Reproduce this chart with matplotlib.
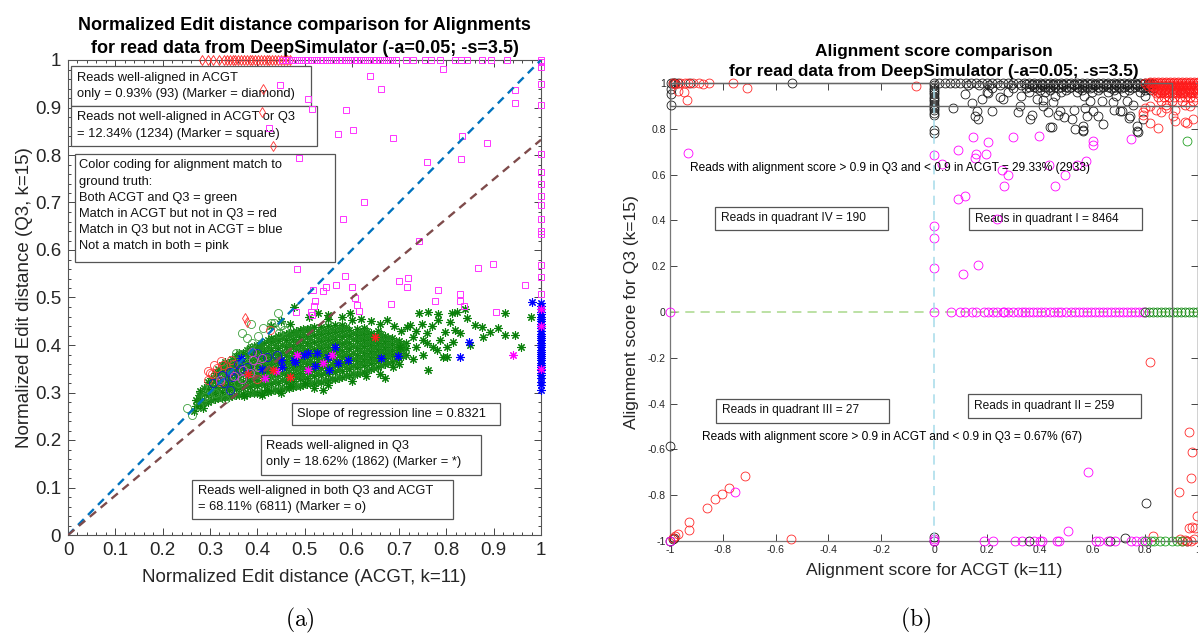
import matplotlib.pyplot as plt
from matplotlib.patches import Rectangle
from matplotlib.ticker import MultipleLocator, FuncFormatter

plt.rcParams['font.family'] = ['Liberation Sans', 'DejaVu Sans']
plt.rcParams['mathtext.fontset'] = 'cm'

# ── panel (a) : normalized edit distance (x = ACGT, y = Q3) ──────────────────
# dense green asterisk cloud, read column by column: (x, [y values])
ga_star_cols = [
    (0.270, [0.272, 0.285]),
    (0.280, [0.274, 0.289, 0.303]),
    (0.295, [0.281, 0.294, 0.308, 0.322]),
    (0.310, [0.286, 0.298, 0.312, 0.327, 0.341]),
    (0.325, [0.289, 0.302, 0.316, 0.331, 0.344, 0.357]),
    (0.340, [0.291, 0.305, 0.318, 0.333, 0.347, 0.362]),
    (0.355, [0.294, 0.307, 0.321, 0.336, 0.350, 0.364, 0.377]),
    (0.370, [0.296, 0.309, 0.323, 0.338, 0.352, 0.367, 0.384]),
    (0.385, [0.298, 0.311, 0.325, 0.339, 0.354, 0.369, 0.382, 0.393]),
    (0.400, [0.300, 0.314, 0.327, 0.341, 0.356, 0.371, 0.385, 0.398]),
    (0.415, [0.301, 0.316, 0.330, 0.344, 0.358, 0.373, 0.388, 0.404]),
    (0.430, [0.303, 0.318, 0.332, 0.346, 0.361, 0.375, 0.390, 0.406, 0.414]),
    (0.445, [0.306, 0.320, 0.334, 0.349, 0.363, 0.378, 0.393, 0.408, 0.419]),
    (0.460, [0.309, 0.322, 0.336, 0.351, 0.366, 0.380, 0.395, 0.410, 0.423]),
    (0.475, [0.311, 0.325, 0.339, 0.353, 0.368, 0.383, 0.398, 0.413, 0.428]),
    (0.490, [0.314, 0.328, 0.342, 0.356, 0.371, 0.386, 0.401, 0.416, 0.431]),
    (0.505, [0.318, 0.331, 0.345, 0.359, 0.374, 0.389, 0.404, 0.419, 0.434]),
    (0.520, [0.321, 0.334, 0.348, 0.362, 0.377, 0.392, 0.406, 0.421, 0.437]),
    (0.535, [0.323, 0.337, 0.351, 0.365, 0.379, 0.394, 0.409, 0.424, 0.438]),
    (0.550, [0.326, 0.340, 0.354, 0.368, 0.382, 0.396, 0.411, 0.426, 0.441]),
    (0.565, [0.329, 0.343, 0.357, 0.371, 0.385, 0.399, 0.413, 0.428, 0.442]),
    (0.580, [0.332, 0.346, 0.360, 0.374, 0.388, 0.402, 0.416, 0.430, 0.443]),
    (0.595, [0.336, 0.349, 0.363, 0.377, 0.391, 0.405, 0.419, 0.432]),
    (0.610, [0.340, 0.353, 0.366, 0.380, 0.394, 0.408, 0.421, 0.434]),
    (0.625, [0.344, 0.357, 0.370, 0.383, 0.397, 0.410, 0.423, 0.436]),
    (0.640, [0.349, 0.362, 0.374, 0.387, 0.400, 0.413, 0.426]),
    (0.655, [0.354, 0.366, 0.379, 0.391, 0.404, 0.417, 0.429]),
    (0.670, [0.360, 0.372, 0.384, 0.396, 0.408, 0.420]),
    (0.685, [0.366, 0.378, 0.390, 0.402, 0.414]),
    (0.700, [0.372, 0.384, 0.396, 0.408]),
    (0.715, [0.380, 0.393, 0.405]),
]
# second, interleaved pass over the same cloud
ga_star_cols2 = [
    (0.2775, [0.279, 0.295]),
    (0.2875, [0.281, 0.296, 0.310]),
    (0.3025, [0.284, 0.300, 0.315, 0.330]),
    (0.3175, [0.288, 0.305, 0.320, 0.335, 0.349]),
    (0.3325, [0.290, 0.309, 0.324, 0.338, 0.352, 0.364]),
    (0.3475, [0.292, 0.311, 0.326, 0.341, 0.356, 0.370]),
    (0.3625, [0.295, 0.314, 0.329, 0.344, 0.358, 0.372, 0.383]),
    (0.3775, [0.297, 0.316, 0.331, 0.346, 0.361, 0.376, 0.389]),
    (0.3925, [0.299, 0.318, 0.333, 0.347, 0.362, 0.377, 0.390, 0.397]),
    (0.4075, [0.300, 0.320, 0.335, 0.350, 0.364, 0.379, 0.393, 0.403]),
    (0.4225, [0.302, 0.323, 0.338, 0.352, 0.367, 0.381, 0.396, 0.410]),
    (0.4375, [0.305, 0.325, 0.340, 0.354, 0.369, 0.384, 0.399, 0.413]),
    (0.4525, [0.307, 0.327, 0.342, 0.357, 0.371, 0.386, 0.401, 0.415, 0.422]),
    (0.4675, [0.310, 0.329, 0.344, 0.359, 0.374, 0.388, 0.403, 0.418, 0.426]),
    (0.4825, [0.313, 0.332, 0.347, 0.362, 0.376, 0.391, 0.406, 0.421, 0.430]),
    (0.4975, [0.316, 0.335, 0.350, 0.365, 0.379, 0.394, 0.409, 0.424, 0.433]),
    (0.5125, [0.320, 0.338, 0.352, 0.367, 0.382, 0.397, 0.412, 0.427, 0.436]),
    (0.5275, [0.322, 0.341, 0.355, 0.370, 0.385, 0.400, 0.414, 0.430]),
    (0.5425, [0.325, 0.344, 0.358, 0.372, 0.387, 0.402, 0.417, 0.432]),
    (0.5575, [0.328, 0.347, 0.361, 0.375, 0.390, 0.404, 0.419, 0.434]),
    (0.5725, [0.331, 0.350, 0.364, 0.378, 0.392, 0.406, 0.421, 0.436]),
    (0.5875, [0.334, 0.353, 0.367, 0.381, 0.395, 0.409, 0.423, 0.437]),
    (0.6025, [0.338, 0.356, 0.370, 0.384, 0.398, 0.412, 0.426]),
    (0.6175, [0.342, 0.360, 0.373, 0.387, 0.401, 0.414, 0.428]),
    (0.6325, [0.347, 0.364, 0.377, 0.390, 0.404, 0.417, 0.430]),
    (0.6475, [0.352, 0.368, 0.381, 0.394, 0.407, 0.420]),
    (0.6625, [0.357, 0.373, 0.385, 0.398, 0.410, 0.423]),
    (0.6775, [0.363, 0.378, 0.390, 0.402, 0.414]),
    (0.6925, [0.369, 0.384, 0.396, 0.408]),
    (0.7075, [0.376, 0.390, 0.402]),
]
# sparse green asterisks around the cloud
ga_star_extra = [
    (0.477, 0.481), (0.529, 0.467), (0.549, 0.463), (0.596, 0.467), (0.742, 0.468),
    (0.761, 0.469), (0.782, 0.465), (0.811, 0.468), (0.822, 0.469), (0.839, 0.476),
    (0.843, 0.457), (0.861, 0.442), (0.875, 0.438), (0.892, 0.427), (0.924, 0.467),
    (0.979, 0.459), (0.924, 0.421), (0.945, 0.421), (0.958, 0.396), (0.761, 0.347),
    (0.801, 0.375), (0.814, 0.406), (0.782, 0.453), (0.797, 0.427), (0.808, 0.448),
    (0.818, 0.432), (0.829, 0.425), (0.786, 0.411), (0.801, 0.396), (0.772, 0.396),
    (0.751, 0.411), (0.729, 0.417), (0.717, 0.438), (0.674, 0.453), (0.702, 0.396),
    (0.687, 0.354), (0.877, 0.417), (0.723, 0.442), (0.780, 0.389), (0.793, 0.375),
    (0.748, 0.445), (0.735, 0.430), (0.760, 0.425), (0.705, 0.430), (0.690, 0.440),
    (0.660, 0.445), (0.640, 0.450), (0.620, 0.455), (0.600, 0.452), (0.580, 0.458),
    (0.550, 0.455), (0.510, 0.460), (0.450, 0.450), (0.430, 0.440), (0.470, 0.445),
    (0.501, 0.320), (0.469, 0.313), (0.372, 0.292), (0.420, 0.306), (0.410, 0.295),
    (0.450, 0.300), (0.520, 0.310), (0.550, 0.315), (0.600, 0.325), (0.630, 0.335),
    (0.660, 0.340), (0.700, 0.360), (0.730, 0.370), (0.750, 0.380), (0.850, 0.400),
    (0.910, 0.435), (0.735, 0.395), (0.760, 0.405), (0.770, 0.440), (0.670, 0.330),
    (0.540, 0.305), (0.266, 0.262), (0.285, 0.268),
]
ga_circle = [
    (0.252, 0.267), (0.262, 0.252), (0.276, 0.272), (0.290, 0.290), (0.300, 0.310),
    (0.332, 0.286), (0.340, 0.306), (0.356, 0.383), (0.367, 0.425), (0.378, 0.415),
    (0.384, 0.393), (0.386, 0.444), (0.389, 0.404), (0.401, 0.418), (0.412, 0.435),
    (0.430, 0.446), (0.436, 0.446), (0.444, 0.468), (0.446, 0.425), (0.448, 0.440),
    (0.452, 0.443), (0.456, 0.432), (0.325, 0.330), (0.310, 0.300), (0.350, 0.360),
    (0.370, 0.370), (0.400, 0.340), (0.420, 0.330), (0.360, 0.320), (0.440, 0.340),
    (0.330, 0.350),
]
ra_circle = [
    (0.296, 0.345), (0.308, 0.357), (0.324, 0.366), (0.344, 0.369), (0.296, 0.327),
    (0.316, 0.352), (0.304, 0.338), (0.340, 0.345), (0.348, 0.359), (0.300, 0.341),
    (0.321, 0.322), (0.400, 0.328), (0.328, 0.358), (0.427, 0.432),
]
ba_circle = [
    (0.400, 0.383), (0.421, 0.375), (0.442, 0.379), (0.342, 0.343), (0.347, 0.333),
    (0.364, 0.349), (0.307, 0.320), (0.342, 0.305), (0.378, 0.354), (0.326, 0.337),
    (0.330, 0.320), (0.360, 0.360),
]
ma_circle = [
    (0.391, 0.368), (0.402, 0.354), (0.370, 0.347), (0.385, 0.341), (0.321, 0.326),
    (0.368, 0.328), (0.410, 0.373), (0.350, 0.335), (0.390, 0.385),
]
ba_star = [
    (0.450, 0.368), (0.452, 0.354), (0.477, 0.369), (0.499, 0.378), (0.527, 0.384),
    (0.565, 0.395), (0.551, 0.347), (0.592, 0.368), (0.698, 0.377), (0.662, 0.373),
    (0.847, 0.407), (0.829, 0.374), (0.982, 0.491), (0.507, 0.383), (0.550, 0.375),
    (0.571, 0.362), (0.522, 0.356), (0.480, 0.364), (0.366, 0.373), (0.410, 0.350),
]
ba_star_col_y = [
    0.305, 0.315, 0.322, 0.330, 0.336, 0.342, 0.348, 0.353, 0.358, 0.363, 0.368,
    0.372, 0.377, 0.382, 0.386, 0.390, 0.395, 0.400, 0.405, 0.410, 0.414, 0.419,
    0.424, 0.430, 0.435, 0.440, 0.445, 0.450, 0.455, 0.460, 0.465, 0.470, 0.476,
    0.482, 0.488,
]
ma_star = [
    (0.484, 0.379), (0.539, 0.362), (0.558, 0.379), (0.507, 0.347), (0.416, 0.330),
    (0.440, 0.345), (0.940, 0.380), (1.000, 0.350), (1.000, 0.440), (1.000, 0.476),
]
ra_star = [(0.649, 0.417), (0.469, 0.333), (0.433, 0.347), (0.380, 0.340)]
ra_diamond_top_x = [
    0.283, 0.295, 0.307, 0.319, 0.330, 0.336, 0.342, 0.348, 0.354, 0.360, 0.366,
    0.372, 0.378, 0.384, 0.390, 0.396, 0.402, 0.408, 0.414, 0.420, 0.426, 0.432,
    0.438, 0.444, 0.450, 0.456, 0.462, 0.469,
]
ra_diamond = [(0.412, 0.938), (0.410, 0.890), (0.433, 0.820), (0.374, 0.457), (0.378, 0.448)]
ma_square_top_x = [
    0.452, 0.460, 0.468, 0.476, 0.484, 0.492, 0.500, 0.508, 0.516, 0.524, 0.532,
    0.540, 0.548, 0.556, 0.564, 0.572, 0.580, 0.588, 0.596, 0.604, 0.612, 0.620,
    0.628, 0.636, 0.644, 0.652, 0.660, 0.668, 0.676, 0.684, 0.694, 0.714, 0.730,
    0.755, 0.767, 0.787, 0.819, 0.831, 0.843, 0.875, 0.895, 0.928, 1.000,
]
ma_square = [
    (0.448, 0.947), (0.507, 0.917), (0.515, 0.896), (0.638, 0.967), (0.662, 0.938),
    (0.792, 0.981), (0.946, 0.937), (0.945, 0.909), (0.588, 0.894), (0.570, 0.845),
    (0.603, 0.852), (0.688, 0.835), (0.833, 0.839), (0.885, 0.825), (0.488, 0.794),
    (0.758, 0.785), (0.830, 0.791), (0.626, 0.701), (0.581, 0.665), (0.742, 0.619),
    (0.485, 0.561), (0.866, 0.562), (0.898, 0.570), (0.585, 0.546), (0.700, 0.535),
    (0.719, 0.542), (0.717, 0.523), (0.783, 0.515), (0.829, 0.507), (0.966, 0.527),
    (0.567, 0.527), (0.600, 0.523), (0.539, 0.514), (0.518, 0.515), (0.545, 0.522),
    (0.523, 0.493), (0.520, 0.483), (0.481, 0.470), (0.514, 0.470), (0.516, 0.463),
    (0.607, 0.498), (0.612, 0.484), (0.615, 0.472), (0.683, 0.486), (0.775, 0.493),
    (0.828, 0.493), (0.837, 0.483), (0.905, 0.469), (0.425, 0.857),
]
ma_square_col_y = [
    0.996, 0.985, 0.949, 0.906, 0.802, 0.764, 0.740, 0.714, 0.695, 0.665, 0.640,
    0.633, 0.568, 0.543, 0.508,
]
slope_a = 0.8321

# ── panel (b) : alignment score (x = ACGT, y = Q3) ───────────────────────────
# black circles, dense rows along the top: (y, [x values])
kb_rows = [
    (1.000, [0.02, 0.04, 0.06, 0.08, 0.10, 0.12, 0.14, 0.16, 0.18, 0.20, 0.22, 0.24,
             0.26, 0.28, 0.30, 0.32, 0.34, 0.36, 0.38, 0.40, 0.42, 0.44, 0.46, 0.48,
             0.50, 0.52, 0.54, 0.56, 0.58, 0.60, 0.62, 0.64, 0.66, 0.68, 0.70, 0.72,
             0.74, 0.76, 0.78, 0.80, 0.82]),
    (0.995, [0.35, 0.37, 0.39, 0.41, 0.43, 0.45, 0.47, 0.49, 0.51, 0.53, 0.55, 0.57,
             0.59, 0.61, 0.63, 0.65, 0.67, 0.69, 0.71, 0.73, 0.75, 0.77, 0.79, 0.81,
             0.83]),
    (0.990, [0.13, 0.17, 0.21, 0.25, 0.29, 0.33, 0.37, 0.41, 0.45, 0.49, 0.53, 0.57,
             0.61, 0.65, 0.69, 0.73, 0.77, 0.81]),
    (0.984, [0.36, 0.38, 0.40, 0.42, 0.44, 0.46, 0.48, 0.50, 0.52, 0.54, 0.56, 0.58,
             0.60, 0.62, 0.64, 0.66, 0.68, 0.70, 0.72, 0.74, 0.76, 0.78, 0.80, 0.82]),
    (0.978, [0.22, 0.30, 0.35, 0.39, 0.43, 0.47, 0.51, 0.55, 0.59, 0.63, 0.67, 0.71,
             0.75, 0.79, 0.83]),
    (0.970, [0.40, 0.44, 0.50, 0.56, 0.62, 0.68, 0.74, 0.80, 0.82]),
    (0.962, [0.28, 0.36, 0.42, 0.48, 0.54, 0.60, 0.66, 0.72, 0.78]),
    (0.945, [0.33, 0.46, 0.57, 0.69, 0.80]),
]
kb_col_y = [1.0, 0.99, 0.98, 0.97, 0.96, 0.95, 0.94, 0.93, 0.92, 0.91, 0.90, 0.89,
            0.88, 0.87, 0.86, 0.795, 0.78]
kb_scatter = [
    (0.117, 0.952), (0.072, 0.891), (0.163, 0.878), (0.167, 0.843), (0.220, 0.878),
    (0.326, 0.900), (0.318, 0.873), (0.364, 0.843), (0.439, 0.808), (0.432, 0.873),
    (0.477, 0.878), (0.523, 0.843), (0.534, 0.799), (0.564, 0.812), (0.564, 0.790),
    (0.580, 0.856), (0.640, 0.821), (0.636, 0.921), (0.705, 0.878), (0.742, 0.856),
    (0.769, 0.790), (0.250, 0.939), (0.200, 0.961), (0.390, 0.930), (0.451, 0.917),
    (0.591, 0.921), (0.678, 0.917), (0.731, 0.921), (0.145, 0.913), (0.157, 0.855),
    (0.181, 0.930), (0.203, 0.956), (0.261, 0.930), (0.370, 0.862), (0.413, 0.898),
    (0.446, 0.807), (0.471, 0.862), (0.493, 0.852), (0.565, 0.793), (0.623, 0.857),
    (0.714, 0.876), (0.739, 0.847), (0.768, 0.811), (0.771, 0.785), (0.793, 0.843),
    (0.754, 0.905), (0.572, 0.891), (0.529, 0.881), (0.601, 0.876), (0.681, 0.884),
    (0.413, 0.927), (-0.996, 1.0), (-0.990, 0.998), (-0.985, 1.0), (-0.996, 0.974),
    (-0.996, 0.952), (-0.996, 0.904), (-0.924, 1.0), (-0.538, 1.0), (-0.980, 1.0),
    (-0.970, 1.0), (-1.0, -1.0), (-0.990, -0.990), (-0.985, -0.985), (-1.0, -0.584),
    (0.0, -0.981), (0.0, -1.0), (0.360, -1.0), (0.665, -1.0), (0.722, -0.988),
    (0.803, -0.836), (0.960, -1.0),
]
# red circles, dense block top right: (y, [x values])
rb_rows = [
    (1.005, [0.820, 0.835, 0.850, 0.865, 0.880, 0.895, 0.910, 0.925, 0.940, 0.955,
             0.970, 0.985, 1.000]),
    (1.000, [0.800, 0.815, 0.830, 0.845, 0.860, 0.875, 0.890, 0.905, 0.920, 0.935,
             0.950, 0.965, 0.980, 0.995]),
    (0.993, [0.822, 0.838, 0.852, 0.868, 0.882, 0.898, 0.912, 0.928, 0.942, 0.958,
             0.972, 0.988]),
    (0.985, [0.810, 0.825, 0.840, 0.855, 0.870, 0.885, 0.900, 0.915, 0.930, 0.945,
             0.960, 0.975, 0.990]),
    (0.978, [0.835, 0.850, 0.865, 0.880, 0.895, 0.910, 0.925, 0.940, 0.955, 0.970,
             0.985, 1.000]),
    (0.970, [0.830, 0.845, 0.860, 0.875, 0.890, 0.905, 0.920, 0.935, 0.950, 0.965,
             0.980, 0.995]),
    (0.962, [0.848, 0.862, 0.878, 0.892, 0.908, 0.922, 0.938, 0.952, 0.968, 0.982,
             0.998]),
    (0.955, [0.840, 0.855, 0.870, 0.885, 0.900, 0.915, 0.930, 0.945, 0.960, 0.975,
             0.990]),
    (0.940, [0.850, 0.870, 0.890, 0.910, 0.930, 0.950, 0.970, 0.990]),
    (0.920, [0.860, 0.900, 0.940, 0.980]),
    (0.905, [0.880, 0.950]),
]
rb_scatter = [
    (-0.962, 1.0), (-0.943, 1.0), (-0.913, 1.0), (-0.875, 0.996), (-0.852, 1.0),
    (-0.761, 1.0), (-0.708, 0.978), (-0.970, 0.965), (-0.947, 0.960), (-0.936, 0.926),
    (-0.068, 0.987), (-0.980, 0.995), (-0.990, 1.0), (-0.930, 1.0), (-0.890, 1.0),
    (0.818, 0.825), (0.848, 0.803), (0.792, 0.873), (0.800, 0.890), (0.913, 0.834),
    (0.951, 0.830), (0.981, 0.843), (0.970, 0.900), (0.790, 0.862), (0.906, 0.855),
    (0.957, 0.825), (0.913, 0.884), (0.820, 0.900), (0.840, 0.880), (0.860, 0.875),
    (0.880, 0.890), (0.818, -0.218), (0.966, -0.524), (0.977, -0.611), (0.973, -0.725),
    (0.928, -0.786), (0.996, -0.890), (0.977, -0.940), (0.965, -0.945), (0.990, -0.945),
    (0.830, -0.980), (0.940, -1.0), (0.950, -0.995), (0.960, -1.0), (0.930, -0.990),
    (0.975, -1.0), (0.985, -0.990), (-0.970, -0.968), (-0.927, -0.919), (-0.927, -0.952),
    (-0.859, -0.854), (-0.830, -0.817), (-0.803, -0.793), (-0.776, -0.770),
    (-0.717, -0.718), (-0.543, -0.990), (-0.990, -0.985), (-0.980, -0.980),
]
mb_scatter = [
    (-0.932, 0.695), (0.0, 0.687), (0.090, 0.706), (0.149, 0.764), (0.206, 0.741),
    (0.158, 0.692), (0.155, 0.673), (0.196, 0.692), (0.301, 0.764), (0.399, 0.767),
    (0.601, 0.745), (0.604, 0.731), (0.745, 0.754), (0.032, 0.648), (0.257, 0.619),
    (0.280, 0.597), (0.265, 0.552), (0.435, 0.644), (0.496, 0.600), (0.457, 0.552),
    (0.541, 0.644), (0.575, 0.658), (0.091, 0.494), (0.119, 0.508), (0.0, 0.375),
    (0.0, 0.322), (0.0, 0.193), (0.109, 0.167), (0.167, 0.204), (0.239, 0.408),
    (0.509, -0.955), (-0.753, -0.786), (0.583, -0.698), (-1.0, 0.0), (-1.0, -1.0),
    (0.0, -0.990), (0.0, -1.0),
]
mb_zero_x = [
    0.0, 0.065, 0.097, 0.116, 0.145, 0.160, 0.190, 0.205, 0.225, 0.240, 0.260, 0.265,
    0.280, 0.300, 0.320, 0.335, 0.345, 0.360, 0.375, 0.390, 0.405, 0.420, 0.440,
    0.455, 0.470, 0.480, 0.500, 0.520, 0.535, 0.550, 0.565, 0.580, 0.595, 0.610,
    0.625, 0.640, 0.655, 0.670, 0.685, 0.700, 0.715, 0.730, 0.745, 0.760, 0.775,
    0.790, 0.800,
]
mb_bottom_x = [0.190, 0.224, 0.305, 0.332, 0.380, 0.400, 0.410, 0.465, 0.475, 0.615,
               0.624, 0.658, 0.685, 0.746, 0.767, 0.787, 0.807]
gb_zero_x = [0.800, 0.815, 0.830, 0.845, 0.860, 0.875, 0.890, 0.905, 0.920, 0.935,
             0.950, 0.965, 0.980, 0.995]
gb_bottom_x = [0.800, 0.821, 0.835, 0.855, 0.875, 0.900, 0.920, 0.940]
gb_scatter = [(0.959, 0.748)]
thr_b = 0.9


def unzip(pairs):
    return [p[0] for p in pairs], [p[1] for p in pairs]


def from_cols(cols):
    xs, ys = [], []
    for x, yl in cols:
        xs += [x] * len(yl)
        ys += list(yl)
    return xs, ys


def from_rows(rows):
    xs, ys = [], []
    for y, xl in rows:
        xs += list(xl)
        ys += [y] * len(xl)
    return xs, ys


def fmt_tick(v, pos):
    return "0" if abs(v) < 1e-9 else f"{v:g}"


def box(ax, x0, y0, x1, y1, lines, tx, ty0, dy, fs, zorder=2):
    ax.add_patch(Rectangle((x0, y0), x1 - x0, y1 - y0, facecolor="white",
                           edgecolor="#555555", lw=0.9, zorder=zorder))
    for i, s in enumerate(lines):
        ax.text(tx, ty0 - i * dy, s, fontsize=fs, va="center", ha="left",
                color="#111111", zorder=zorder + 0.1)


ASTER = (8, 2, 0)

fig = plt.figure(figsize=(11.98, 6.36), dpi=100)

# ══════════════════════════════════════════════════════════════════════════
# (a)
# ══════════════════════════════════════════════════════════════════════════
ax = fig.add_axes([68 / 1198, 101 / 636, 473 / 1198, 475 / 636])
ax.set_xlim(0, 1)
ax.set_ylim(0, 1)

mk = dict(linestyle="none", clip_on=False, markerfacecolor="none")
st = dict(marker=ASTER, ms=6, mew=0.8)
x, y = from_cols(ga_star_cols)
ax.plot(x, y, color="#0a800a", zorder=3, **st, **mk)
x, y = from_cols(ga_star_cols2)
ax.plot(x, y, color="#1a8a1a", zorder=3, **st, **mk)
x, y = unzip(ga_star_extra)
ax.plot(x, y, color="#0a800a", zorder=3, **st, **mk)
x, y = unzip(ga_circle)
ax.plot(x, y, marker="o", ms=5.8, mew=0.6, color="#3a9e3a", zorder=4, **mk)
x, y = unzip(ra_circle)
ax.plot(x, y, marker="o", ms=5.8, mew=0.6, color="#ff3a3a", zorder=4, **mk)
x, y = unzip(ba_circle)
ax.plot(x, y, marker="o", ms=5.8, mew=0.6, color="#1010e0", zorder=4, **mk)
x, y = unzip(ma_circle)
ax.plot(x, y, marker="o", ms=5.8, mew=0.6, color="#e040e0", zorder=4, **mk)
x, y = unzip(ba_star)
ax.plot(x, y, color="#0000ff", zorder=5, **st, **mk)
ax.plot([1.0] * len(ba_star_col_y), ba_star_col_y, color="#0000ff", zorder=5, **st, **mk)
x, y = unzip(ma_star)
ax.plot(x, y, color="#ff00ff", zorder=5, **st, **mk)
x, y = unzip(ra_star)
ax.plot(x, y, color="#ff2020", zorder=5, **st, **mk)
ax.plot(ra_diamond_top_x, [1.0] * len(ra_diamond_top_x), marker="d", ms=5.5, mew=0.6,
        color="#ff2020", zorder=5, **mk)
x, y = unzip(ra_diamond)
ax.plot(x, y, marker="d", ms=5.5, mew=0.6, color="#ff3030", zorder=5, **mk)
ax.plot(ma_square_top_x, [1.0] * len(ma_square_top_x), marker="s", ms=4.6, mew=0.7,
        color="#ff33ff", zorder=5, **mk)
x, y = unzip(ma_square)
ax.plot(x, y, marker="s", ms=4.6, mew=0.7, color="#ff33ff", zorder=5, **mk)
ax.plot([1.0] * len(ma_square_col_y), ma_square_col_y, marker="s", ms=4.6, mew=0.7,
        color="#ff33ff", zorder=5, **mk)

# reference line y = x and regression line
ax.plot([0, 1], [0, 1], color="#0072BD", lw=1.7, ls=(0, (3.5, 2.5)), zorder=6)
ax.plot([0, 1], [0, slope_a], color="#7e4b4b", lw=1.7, ls=(0, (3.5, 2.5)), zorder=6)

fs_a = 9.3
box(ax, 0.006, 0.903, 0.513, 0.988,
    ["Reads well-aligned in ACGT", "only = 0.93% (93) (Marker = diamond)"],
    0.018, 0.963, 0.034, fs_a)
box(ax, 0.006, 0.819, 0.527, 0.903,
    ["Reads not well-aligned in ACGT or Q3", "= 12.34% (1234) (Marker = square)"],
    0.018, 0.879, 0.034, fs_a)
box(ax, 0.014, 0.574, 0.565, 0.802,
    ["Color coding for alignment match to", "ground truth:",
     "Both ACGT and Q3 = green", "Match in ACGT but not in Q3 = red",
     "Match in Q3 but not in ACGT = blue", "Not a match in both = pink"],
    0.024, 0.778, 0.0338, fs_a)
box(ax, 0.474, 0.231, 0.914, 0.277,
    [f"Slope of regression line = {slope_a}"], 0.485, 0.254, 0.034, fs_a)
box(ax, 0.407, 0.127, 0.874, 0.211,
    ["Reads well-aligned in Q3", "only = 18.62% (1862) (Marker = *)"],
    0.418, 0.187, 0.034, fs_a)
box(ax, 0.262, 0.033, 0.813, 0.116,
    ["Reads well-aligned in both Q3 and ACGT", "= 68.11% (6811) (Marker = o)"],
    0.274, 0.092, 0.034, fs_a)

ax.xaxis.set_major_locator(MultipleLocator(0.1))
ax.yaxis.set_major_locator(MultipleLocator(0.1))
ax.xaxis.set_minor_locator(MultipleLocator(0.02))
ax.yaxis.set_minor_locator(MultipleLocator(0.02))
ax.xaxis.set_major_formatter(FuncFormatter(fmt_tick))
ax.yaxis.set_major_formatter(FuncFormatter(fmt_tick))
ax.tick_params(which="both", direction="in", top=True, right=True, colors="#262626",
               labelsize=13.5, width=0.6)
ax.tick_params(which="major", length=5, pad=5)
ax.tick_params(which="minor", length=2.5)
for sp in ax.spines.values():
    sp.set_color("#555555")
    sp.set_linewidth(0.8)
ax.set_xlabel("Normalized Edit distance (ACGT, k=11)", fontsize=13.5, color="#262626")
ax.set_ylabel("Normalized Edit distance (Q3, k=15)", fontsize=13.5, color="#262626")
ax.xaxis.set_label_coords(0.5, -0.072)
ax.yaxis.set_label_coords(-0.075, 0.5)
ax.set_title("Normalized Edit distance comparison for Alignments\n"
             "for read data from DeepSimulator (-a=0.05; -s=3.5)",
             fontsize=13, fontweight="bold", pad=5, linespacing=1.45)

# ══════════════════════════════════════════════════════════════════════════
# (b)
# ══════════════════════════════════════════════════════════════════════════
bx = fig.add_axes([670 / 1198, 95 / 636, 528 / 1198, 458 / 636])
bx.set_xlim(-1, 1)
bx.set_ylim(-1, 1)

mb = dict(linestyle="none", clip_on=False, markerfacecolor="none", marker="o",
          ms=6.4, mew=0.6)
x, y = from_rows(kb_rows)
bx.plot(x, y, color="#1a1a1a", zorder=3, **mb)
bx.plot([0.0] * len(kb_col_y), kb_col_y, color="#1a1a1a", zorder=3, **mb)
x, y = unzip(kb_scatter)
bx.plot(x, y, color="#1a1a1a", zorder=3, **mb)
x, y = from_rows(rb_rows)
bx.plot(x, y, color="#ff1a1a", zorder=3, **mb)
x, y = unzip(rb_scatter)
bx.plot(x, y, color="#ff2a2a", zorder=3, **mb)
x, y = unzip(mb_scatter)
bx.plot(x, y, color="#ff00ff", zorder=3, **mb)
bx.plot(mb_zero_x, [0.0] * len(mb_zero_x), color="#ff00ff", zorder=3, **mb)
bx.plot(mb_bottom_x, [-1.0] * len(mb_bottom_x), color="#ff00ff", zorder=3, **mb)
bx.plot(gb_zero_x, [0.0] * len(gb_zero_x), color="#118811", zorder=3, **mb)
bx.plot(gb_bottom_x, [-1.0] * len(gb_bottom_x), color="#22a022", zorder=3, **mb)
x, y = unzip(gb_scatter)
bx.plot(x, y, color="#22a022", zorder=3, **mb)

# zero lines and threshold regions
bx.axvline(0, color="#a6dbea", lw=1.1, ls=(0, (6, 4)), zorder=4)
bx.axhline(0, color="#a9d98c", lw=1.1, ls=(0, (6, 4)), zorder=2.5)
bx.add_patch(Rectangle((-1, thr_b), 1 + thr_b, 1 - thr_b, fill=False,
                       edgecolor="#666666", lw=1.0, zorder=5, clip_on=False))
bx.add_patch(Rectangle((thr_b, -1), 1 - thr_b, 1 + thr_b, fill=False,
                       edgecolor="#666666", lw=1.0, zorder=5, clip_on=False))

fs_b = 8.6
bx.text(-0.925, 0.629,
        "Reads with alignment score > 0.9 in Q3 and < 0.9 in ACGT = 29.33% (2933)",
        fontsize=fs_b, va="center", ha="left", zorder=6)
bx.text(-0.880, -0.548,
        "Reads with alignment score > 0.9 in ACGT and < 0.9 in Q3 = 0.67% (67)",
        fontsize=fs_b, va="center", ha="left", zorder=6)
box(bx, -0.829, 0.360, -0.174, 0.459, ["Reads in quadrant IV = 190"],
    -0.807, 0.410, 0.0, fs_b, zorder=1.5)
box(bx, 0.133, 0.356, 0.787, 0.453, ["Reads in quadrant I = 8464"],
    0.155, 0.405, 0.0, fs_b, zorder=1.5)
box(bx, -0.826, -0.483, -0.172, -0.378, ["Reads in quadrant III = 27"],
    -0.804, -0.430, 0.0, fs_b, zorder=1.5)
box(bx, 0.128, -0.461, 0.783, -0.360, ["Reads in quadrant II = 259"],
    0.150, -0.410, 0.0, fs_b, zorder=1.5)

bx.xaxis.set_major_locator(MultipleLocator(0.2))
bx.yaxis.set_major_locator(MultipleLocator(0.2))
bx.xaxis.set_major_formatter(FuncFormatter(fmt_tick))
bx.yaxis.set_major_formatter(FuncFormatter(fmt_tick))
bx.tick_params(which="both", direction="in", top=True, right=True, colors="#262626",
               labelsize=7.6, width=0.6, length=5, pad=3)
for sp in bx.spines.values():
    sp.set_color("#777777")
    sp.set_linewidth(0.9)
bx.set_xlabel("Alignment score for ACGT (k=11)", fontsize=12.6, color="#262626")
bx.set_ylabel("Alignment score for Q3 (k=15)", fontsize=12.6, color="#262626")
bx.xaxis.set_label_coords(0.5, -0.047)
bx.yaxis.set_label_coords(-0.058, 0.5)
bx.set_title("Alignment score comparison\n"
             "for read data from DeepSimulator (-a=0.05; -s=3.5)",
             fontsize=12.4, fontweight="bold", pad=5, linespacing=1.4)

# sub-figure captions
fig.text(0.25, 0.025, r"$\mathrm{(a)}$", fontsize=17, ha="center", va="center")
fig.text(0.764, 0.025, r"$\mathrm{(b)}$", fontsize=17, ha="center", va="center")

fig.savefig("out.png", dpi=100)
